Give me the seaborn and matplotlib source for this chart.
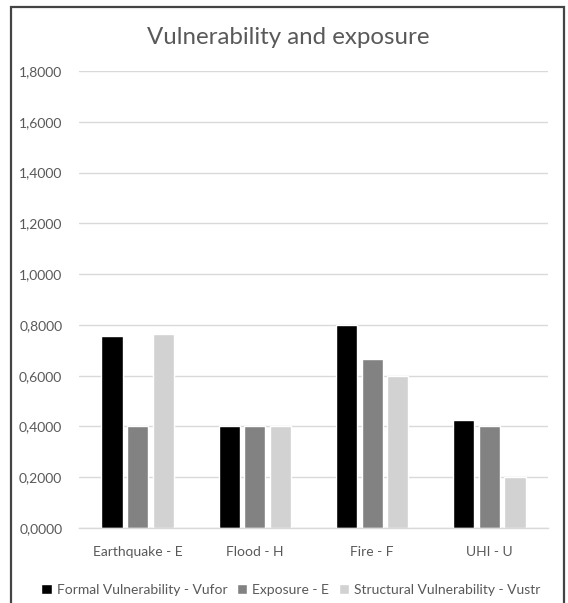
import matplotlib
matplotlib.use("Agg")
import matplotlib.pyplot as plt
import seaborn as sns
import pandas as pd
from matplotlib.patches import Rectangle
from matplotlib.ticker import FuncFormatter

hazards = ["Earthquake - E", "Flood - H", "Fire - F", "UHI - U"]
series_names = ["Formal Vulnerability - Vufor", "Exposure - E",
                "Structural Vulnerability - Vustr"]
formal_vuln = [0.755, 0.400, 0.800, 0.425]
exposure = [0.400, 0.400, 0.6667, 0.400]
structural_vuln = [0.763, 0.400, 0.600, 0.200]
y_ticks = [0.0, 0.2, 0.4, 0.6, 0.8, 1.0, 1.2, 1.4, 1.6, 1.8]

rows = []
for name, vals in zip(series_names, [formal_vuln, exposure, structural_vuln]):
    for h, v in zip(hazards, vals):
        rows.append({"hazard": h, "series": name, "value": v})
df = pd.DataFrame(rows)

sns.set_theme(style="white")
plt.rcParams["font.family"] = ["Lato", "DejaVu Sans"]

W, H = 568, 603
fig = plt.figure(figsize=(W / 100, H / 100), dpi=100)
ax = fig.add_axes([79 / W, 1 - 528 / H, (548 - 79) / W, (528 - 71) / H])

palette = {series_names[0]: "#000000", series_names[1]: "#828282",
           series_names[2]: "#d2d2d2"}
sns.barplot(data=df, x="hazard", y="value", hue="series", order=hazards,
            hue_order=series_names, palette=palette, width=0.655, gap=0.17,
            saturation=1, ax=ax, legend=True)

ax.set_ylim(0, 1.8)
ax.set_yticks(y_ticks)
ax.yaxis.set_major_formatter(FuncFormatter(lambda v, _: f"{v:.4f}".replace(".", ",")))
ax.grid(axis="y", color="#d9d9d9", linewidth=1.0)
ax.set_axisbelow(True)
for s in ["top", "right", "left"]:
    ax.spines[s].set_visible(False)
ax.spines["bottom"].set_color("#d9d9d9")
ax.spines["bottom"].set_linewidth(1.0)
ax.tick_params(axis="both", length=0, colors="#595959", labelsize=10)
ax.tick_params(axis="y", pad=12)
ax.tick_params(axis="x", pad=13)
ax.set_xlabel("")
ax.set_ylabel("")

handles, labels = ax.get_legend_handles_labels()
ax.get_legend().remove()
leg = fig.legend(handles, labels, loc="center", bbox_to_anchor=(291 / W, 1 - 590 / H),
                 ncol=3, frameon=False, fontsize=10, handlelength=0.75,
                 handleheight=0.75, handletextpad=0.35, columnspacing=0.7)
for t in leg.get_texts():
    t.set_color("#595959")

fig.text(288 / W, 1 - 37 / H, "Vulnerability and exposure", ha="center",
         va="center", fontsize=17.3, color="#595959")

fig.patches.append(Rectangle((11 / W, -0.01), (564 - 11) / W, 1 - 7 / H + 0.01,
                             transform=fig.transFigure, fill=False,
                             edgecolor="#444444", linewidth=1.6))

fig.savefig("out.png", dpi=100)
